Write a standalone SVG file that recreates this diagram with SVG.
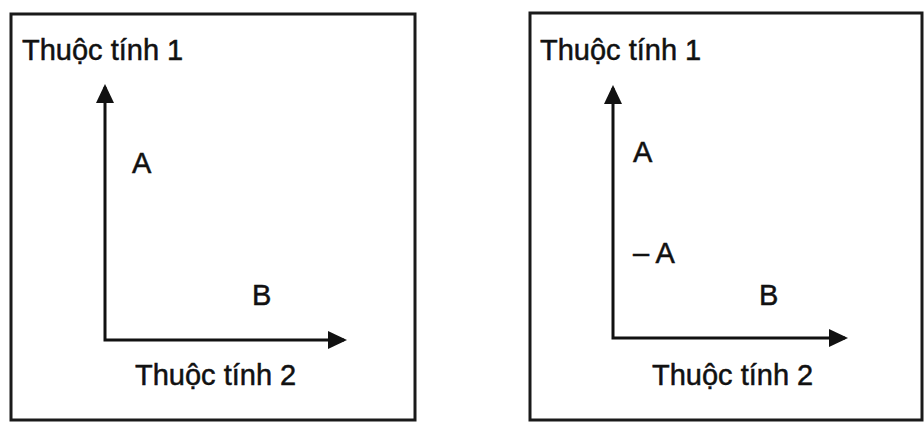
<svg xmlns="http://www.w3.org/2000/svg" width="924" height="422" viewBox="0 0 924 422">
<style>
.frame{fill:#fff;stroke:#1a1a1a;stroke-width:3}
.axis{fill:none;stroke:#111;stroke-width:3}
.t{font-family:"Liberation Sans",Arial,sans-serif;font-size:29px;fill:#111;stroke:#111;stroke-width:0.5}
</style>
<defs>
<marker id="ah" markerUnits="userSpaceOnUse" viewBox="0 0 19 18" markerWidth="19" markerHeight="18" refX="16" refY="9" orient="auto-start-reverse">
<path d="M0,0 L19,9 L0,18 z" fill="#111"/>
</marker>
</defs>
<rect width="924" height="422" fill="#fff"/>
<g id="panel-left">
<rect class="frame" x="11" y="14" width="404" height="406"/>
<text class="t" x="22" y="60">Thuộc tính 1</text>
<text class="t" x="135" y="385">Thuộc tính 2</text>
</g>
<g id="panel-right">
<rect class="frame" x="530" y="13" width="392" height="407"/>
<text class="t" x="540" y="60">Thuộc tính 1</text>
<text class="t" x="652" y="385">Thuộc tính 2</text>
</g>
<g id="point-A-left"><text class="t" x="132" y="173">A</text></g>
<g id="point-B-left"><text class="t" x="252" y="305">B</text></g>
<g id="point-A-right"><text class="t" x="633" y="162">A</text></g>
<g id="point-negA-right"><text class="t" x="633" y="263">– A</text></g>
<g id="point-B-right"><text class="t" x="759" y="305">B</text></g>
<g id="connectors">
<path class="axis" d="M105,87 L105,340 L344,340" marker-start="url(#ah)" marker-end="url(#ah)"/>
<path class="axis" d="M613,88 L613,338 L845,338" marker-start="url(#ah)" marker-end="url(#ah)"/>
</g>
</svg>
